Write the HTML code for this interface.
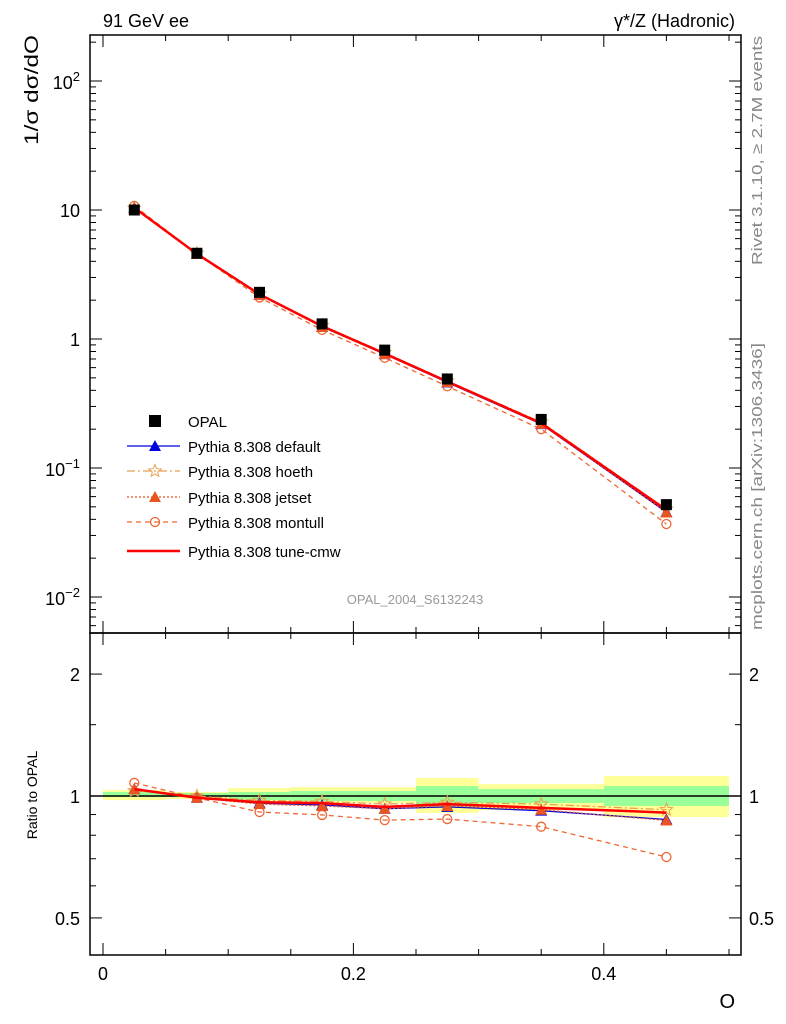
<!DOCTYPE html>
<html><head><meta charset="utf-8"><style>
body{margin:0;background:#fff;}
svg{display:block;font-family:"Liberation Sans",sans-serif;}
</style></head><body>
<svg id="c" width="786" height="1024"></svg>
<script>
const binLo=[0,0.05,0.1,0.15,0.2,0.25,0.3,0.4];
const binHi=[0.05,0.1,0.15,0.2,0.25,0.3,0.4,0.5];
const xCenters=[0.025,0.075,0.125,0.175,0.225,0.275,0.35,0.45];
const opal=[10.0,4.62,2.30,1.31,0.82,0.49,0.238,0.052];
const rDefault=[1.04,0.99,0.96,0.95,0.93,0.94,0.92,0.875];
const rHoeth=[1.03,1.0,0.975,0.97,0.955,0.965,0.955,0.925];
const rJetset=[1.04,0.99,0.955,0.945,0.93,0.945,0.925,0.87];
const rMontull=[1.077,0.99,0.913,0.898,0.872,0.877,0.84,0.707];
const rCmw=[1.04,0.99,0.965,0.96,0.94,0.955,0.935,0.91];
const mDefault=[10.4,4.57,2.21,1.245,0.763,0.461,0.219,0.0455];
const mHoeth=[10.3,4.62,2.24,1.27,0.783,0.473,0.227,0.048];
const mJetset=[10.4,4.57,2.20,1.238,0.763,0.463,0.220,0.0452];
const mMontull=[10.77,4.57,2.10,1.176,0.715,0.430,0.200,0.0368];
const mCmw=[10.4,4.57,2.22,1.258,0.771,0.468,0.2225,0.0473];
const yelLo=[0.977,0.983,0.966,0.961,0.961,0.908,0.923,0.887];
const yelHi=[1.035,1.023,1.046,1.052,1.052,1.108,1.07,1.12];
const grnLo=[0.994,0.994,0.977,0.972,0.972,0.939,0.961,0.945];
const grnHi=[1.023,1.017,1.023,1.029,1.029,1.058,1.04,1.058];
const xTicks=[0,0.2,0.4];
const xTickLabels=["0","0.2","0.4"];

const NS="http://www.w3.org/2000/svg";
const svg=document.getElementById('c');
function el(t,a,p){const e=document.createElementNS(NS,t);for(const k in a)e.setAttribute(k,a[k]);(p||svg).appendChild(e);return e;}
const L=90,R=741,T1=35,B1=633,B2=955;
const X=v=>103+v*1252;
const Y1=v=>339-129*Math.log10(v);
const Y2=v=>796-405*Math.log10(v);

for(let i=0;i<binLo.length;i++){
  let r=el('rect',{x:X(binLo[i]),y:Y2(yelHi[i]),width:X(binHi[i])-X(binLo[i]),height:Y2(yelLo[i])-Y2(yelHi[i]),fill:'#ffff99'});
  
  let g=el('rect',{x:X(binLo[i]),y:Y2(grnHi[i]),width:X(binHi[i])-X(binLo[i]),height:Y2(grnLo[i])-Y2(grnHi[i]),fill:'#99ff99'});
  
}
el('line',{x1:L,x2:R,y1:Y2(1),y2:Y2(1),stroke:'#000','stroke-width':1.5});

el('rect',{x:L,y:T1,width:R-L,height:B1-T1,fill:'none',stroke:'#000','stroke-width':1.5});
el('rect',{x:L,y:B1,width:R-L,height:B2-B1,fill:'none',stroke:'#000','stroke-width':1.5});

for(let v=0;v<=0.5001;v+=0.05){
  const major=Math.abs(v*5-Math.round(v*5))<1e-6;
  const len=major?12:6;
  [[T1,1],[B1,-1],[B1,1],[B2,-1]].forEach(([y,d])=>el('line',{x1:X(v),x2:X(v),y1:y,y2:y+d*len,stroke:'#000'}));
}
xTicks.forEach((v,i)=>{const t=el('text',{x:X(v),y:980,'font-size':18,'text-anchor':'middle'});t.textContent=xTickLabels[i];
});
for(let e=-3;e<=2;e++)for(let m=1;m<=9;m++){const v=m*Math.pow(10,e);const y=Y1(v);if(y<T1||y>B1)continue;
 const len=m==1?12:6;el('line',{x1:L,x2:L+len,y1:y,y2:y,stroke:'#000'});el('line',{x1:R,x2:R-len,y1:y,y2:y,stroke:'#000'});}
function tx(x,y,s,sz,anchor,name,extra){const t=el('text',Object.assign({x:x,y:y,'font-size':sz,'text-anchor':anchor||'start'},extra||{}));t.innerHTML=s;return t;}
tx(80,89,'10<tspan font-size="13" dy="-8">2</tspan>',18,'end','y-tick-100');
tx(80,217,'10',18,'end','y-tick-10');
tx(80,346,'1',18,'end','y-tick-1');
tx(80,476,'10<tspan font-size="13" dy="-8">−1</tspan>',18,'end','y-tick-0.1');
tx(80,605,'10<tspan font-size="13" dy="-8">−2</tspan>',18,'end','y-tick-0.01');
[0.5,0.6,0.7,0.8,0.9,1,2].forEach(v=>{const y=Y2(v);const len=(v==1||v==0.5||v==2)?12:6;
 el('line',{x1:L,x2:L+len,y1:y,y2:y,stroke:'#000'});el('line',{x1:R,x2:R-len,y1:y,y2:y,stroke:'#000'});});
[1.5,3,4].forEach(v=>{const y=Y2(v);if(y>B1){el('line',{x1:L,x2:L+6,y1:y,y2:y,stroke:'#000'});el('line',{x1:R,x2:R-6,y1:y,y2:y,stroke:'#000'});}});
[[2,'2'],[1,'1'],[0.5,'0.5']].forEach(([v,s])=>{tx(80,Y2(v)+7,s,18,'end','ratio-tick-left');tx(749,Y2(v)+7,s,18,'start','ratio-tick-right');});

tx(103,27,'91 GeV ee',18,'start','title-left');
tx(735,27,'γ*/Z (Hadronic)',18,'end','title-right');
tx(735,1008,'O',20,'end','x-axis-title');
tx(0,0,'1/σ dσ/dO',19,'end','y-axis-title',{transform:'translate(38,35) rotate(-90)',textLength:110,lengthAdjust:'spacingAndGlyphs'});
tx(0,0,'Ratio to OPAL',14,'middle','ratio-axis-title',{transform:'translate(37,795) rotate(-90)'});
tx(0,0,'Rivet 3.1.10, ≥ 2.7M events',15,'end','rivet-label',{transform:'translate(762,36) rotate(-90)',fill:'#888',textLength:229,lengthAdjust:'spacingAndGlyphs'});
tx(0,0,'mcplots.cern.ch [arXiv:1306.3436]',15,'end','mcplots-label',{transform:'translate(762,343) rotate(-90)',fill:'#888',textLength:287,lengthAdjust:'spacingAndGlyphs'});
tx(415,604,'OPAL_2004_S6132243',13,'middle','analysis-id',{fill:'#999'});

function marker(type,x,y,col,g){
  if(type=='tri')el('polygon',{points:`${x},${y-6} ${x-6},${y+5} ${x+6},${y+5}`,fill:col},g);
  else if(type=='circ')el('circle',{cx:x,cy:y,r:4.5,fill:'none',stroke:col,'stroke-width':1.3},g);
  else if(type=='star'){let p=[];for(let k=0;k<10;k++){const r=k%2?2.8:6.5,a=-Math.PI/2+k*Math.PI/5;p.push((x+r*Math.cos(a)).toFixed(1)+','+(y+r*Math.sin(a)).toFixed(1));}
    el('polygon',{points:p.join(' '),fill:'none',stroke:col,'stroke-width':1},g);}
}
const series=[
 {name:'hoeth',m:mHoeth,r:rHoeth,col:'#e8a050',dash:'8,3,2,3',mk:'star',w:1.3},
 {name:'montull',m:mMontull,r:rMontull,col:'#ee6633',dash:'5,4',mk:'circ',w:1.3},
 {name:'default',m:mDefault,r:rDefault,col:'#0000dd',dash:'',mk:'tri',w:1.3},
 {name:'jetset',m:mJetset,r:rJetset,col:'#e85520',dash:'2,2',mk:'tri',w:1.3},
 {name:'tune-cmw',m:mCmw,r:rCmw,col:'#ff0000',dash:'',mk:'',w:2.5},
];
series.forEach(s=>{
 [[s.m,Y1,'main'],[s.r,Y2,'ratio']].forEach(([arr,Yf,pn])=>{
  const g=el('g',{});
  el('polyline',{points:xCenters.map((x,i)=>X(x)+','+Yf(arr[i])).join(' '),fill:'none',stroke:s.col,'stroke-width':s.w,'stroke-dasharray':s.dash},g);
  if(s.mk)xCenters.forEach((x,i)=>marker(s.mk,X(x),Yf(arr[i]),s.col,g));
 });
});
const og=el('g',{});
xCenters.forEach((x,i)=>{el('rect',{x:X(x)-5.5,y:Y1(opal[i])-5.5,width:11,height:11,fill:'#000'},og);});

const lg=el('g',{});
const legItems=[['OPAL','sq','#000',''],['Pythia 8.308 default','tri','#0000dd',''],['Pythia 8.308 hoeth','star','#e8a050','8,3,2,3'],
['Pythia 8.308 jetset','tri','#e85520','2,2'],['Pythia 8.308 montull','circ','#ee6633','5,4'],['Pythia 8.308 tune-cmw','','#ff0000','']];
const legY=[421,446,471,497,522,551];
legItems.forEach((it,i)=>{const y=legY[i];const g=el('g',{},lg);
 if(it[1]=='sq')el('rect',{x:149,y:y-6,width:12,height:12,fill:'#000'},g);
 else{el('line',{x1:127,x2:180,y1:y,y2:y,stroke:it[2],'stroke-width':i==5?2.5:1.3,'stroke-dasharray':it[3]},g);if(it[1])marker(it[1],155,y,it[2],g);}
 const t=el('text',{x:188,y:y+6,'font-size':15},g);t.textContent=it[0];});
</script>
</body></html>
